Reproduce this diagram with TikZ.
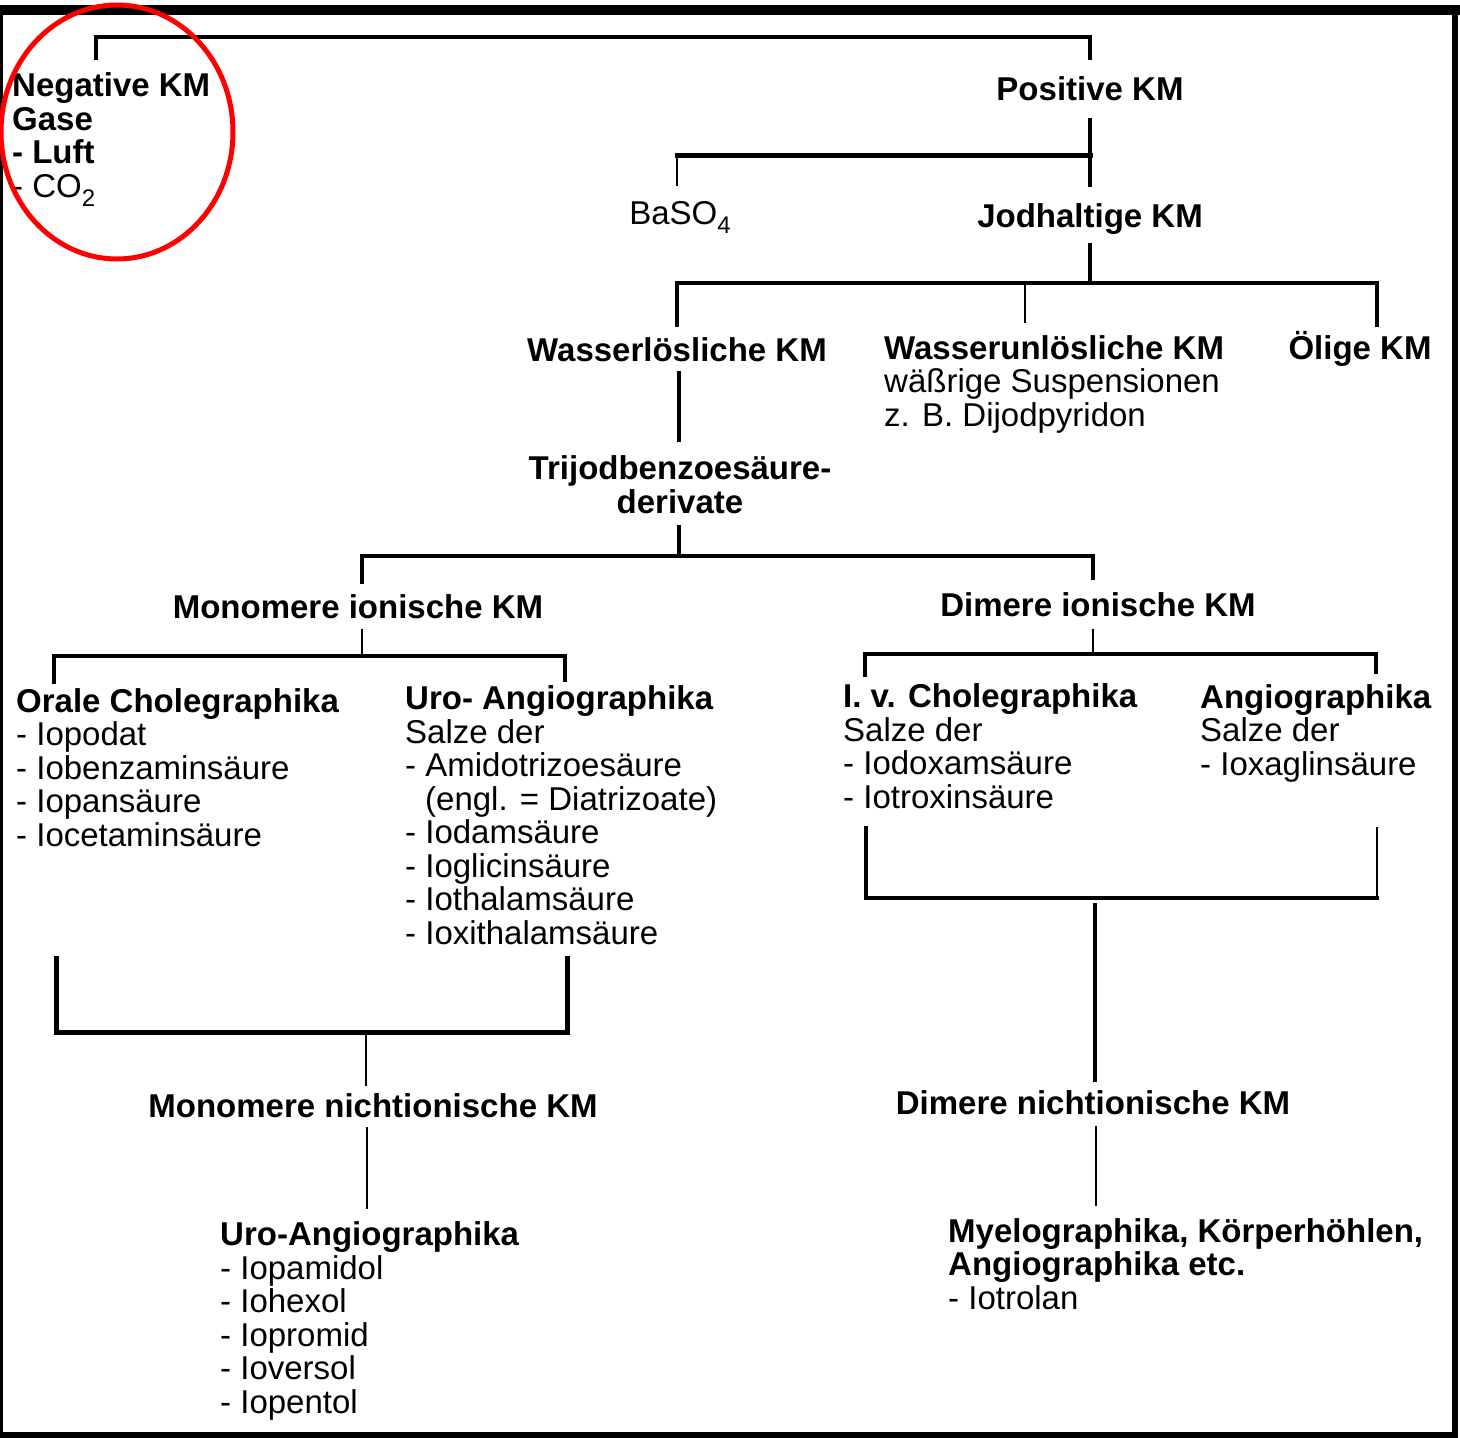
\documentclass[tikz,border=0pt]{standalone}
\usepackage{fontspec}
\setmainfont{Liberation Sans}
\newcommand{\lowsub}[1]{\raisebox{-0.28em}{\fontsize{24}{24}\selectfont #1}}
\newcommand{\diagfont}{\fontsize{33}{33.5}\selectfont\lineskiplimit-60pt\relax}
\begin{document}
\begin{tikzpicture}[x=1pt,y=-1pt,
  hd/.style={font={\diagfont\bfseries}, inner sep=0pt, align=left},
  tx/.style={font={\diagfont}, inner sep=0pt, align=left},
  ln/.style={line width=4pt, line cap=rect},
  lnthick/.style={line width=5pt, line cap=rect},
  lnthin/.style={line width=2.5pt, line cap=rect},
  frame/.style={fill=black, draw=none},
  ring/.style={draw=red, line width=5pt}]
\useasboundingbox (0,0) rectangle (1460,1438);
% frame
\fill[frame] (0,5) rectangle (1460,15);
\fill[frame] (0,5) rectangle (3,1438);
\fill[frame] (1452,5) rectangle (1458,1438);
\fill[frame] (0,1432) rectangle (1458,1438);

% texts (multi-line nodes are anchored at the baseline of their last line)
\node[hd, anchor=base west] (neg) at (12,197) {Negative KM\\Gase\\- Luft\\\mdseries - CO\lowsub{2}};
\node[hd, anchor=base] (pos) at (1090,100) {Positive KM};
\node[tx, anchor=base] (baso) at (680,224) {BaSO\lowsub{4}};
\node[hd, anchor=base] (jod) at (1090,227) {Jodhaltige KM};
\node[hd, anchor=base] (wl) at (677,361) {Wasserlösliche KM};
\node[tx, anchor=base west] (wu) at (884,426) {\textbf{Wasserunlösliche KM}\\wäßrige Suspensionen\\z. B. Dijodpyridon};
\node[hd, anchor=base] (oel) at (1360,359) {Ölige KM};
\node[hd, anchor=base, align=center] (tri) at (680,513) {Trijodbenzoesäure-\\derivate};
\node[hd, anchor=base] (mi) at (358,618) {Monomere ionische KM};
\node[hd, anchor=base] (di) at (1098,616) {Dimere ionische KM};
\node[tx, anchor=base west] (oc) at (16,846) {\textbf{Orale Cholegraphika}\\- Iopodat\\- Iobenzaminsäure\\- Iopansäure\\- Iocetaminsäure};
\node[tx, anchor=base west] (ua) at (405,944) {\textbf{Uro- Angiographika}\\Salze der\\- Amidotrizoesäure\\\hspace*{20pt}(engl. = Diatrizoate)\\- Iodamsäure\\- Ioglicinsäure\\- Iothalamsäure\\- Ioxithalamsäure};
\node[tx, anchor=base west] (ivc) at (843,808) {\textbf{I. v. Cholegraphika}\\Salze der\\- Iodoxamsäure\\- Iotroxinsäure};
\node[tx, anchor=base west] (ang) at (1200,775) {\textbf{Angiographika}\\Salze der\\- Ioxaglinsäure};
\node[hd, anchor=base] (mn) at (373,1117) {Monomere nichtionische KM};
\node[tx, anchor=base west] (uan) at (220,1413) {\textbf{Uro-Angiographika}\\- Iopamidol\\- Iohexol\\- Iopromid\\- Ioversol\\- Iopentol};
\node[hd, anchor=base] (dn) at (1093,1114) {Dimere nichtionische KM};
\node[tx, anchor=base west] (my) at (948,1309) {\textbf{Myelographika, Körperhöhlen,}\\\textbf{Angiographika etc.}\\- Iotrolan};

% junction coordinates
\coordinate (a1) at (96,58);   \coordinate (a2) at (96,37);
\coordinate (a3) at (1090,37); \coordinate (a4) at (1090,58);
\coordinate (b1) at (1090,120); \coordinate (b2) at (1090,185);
\coordinate (b3) at (1090,155); \coordinate (b4) at (677,155); \coordinate (b5) at (677,185);
\coordinate (c1) at (1090,245); \coordinate (c2) at (1090,283);
\coordinate (c3) at (677,325); \coordinate (c4) at (677,283);
\coordinate (c5) at (1377,283); \coordinate (c6) at (1377,325);
\coordinate (c7) at (1025,283); \coordinate (c8) at (1025,322);
\coordinate (d1) at (679,373); \coordinate (d2) at (679,440);
\coordinate (e1) at (679,527); \coordinate (e2) at (679,556);
\coordinate (e3) at (362,582); \coordinate (e4) at (362,556);
\coordinate (e5) at (1093,556); \coordinate (e6) at (1093,578);
\coordinate (f1) at (362,630); \coordinate (f2) at (362,656);
\coordinate (f3) at (54,682); \coordinate (f4) at (54,656);
\coordinate (f5) at (565,656); \coordinate (f6) at (565,680);
\coordinate (g1) at (1093,630); \coordinate (g2) at (1093,654);
\coordinate (g3) at (865,675); \coordinate (g4) at (865,654);
\coordinate (g5) at (1376,654); \coordinate (g6) at (1376,672);
\coordinate (h1) at (56,958); \coordinate (h2) at (56,1032);
\coordinate (h3) at (567,1032); \coordinate (h4) at (567,958);
\coordinate (h5) at (366,1032); \coordinate (h6) at (366,1085);
\coordinate (i1) at (367,1128); \coordinate (i2) at (367,1208);
\coordinate (j1) at (866,828); \coordinate (j2) at (866,898);
\coordinate (j3) at (1377,898); \coordinate (j4) at (1377,828);
\coordinate (j5) at (1095,905); \coordinate (j6) at (1095,1080);
\coordinate (k1) at (1096,1127); \coordinate (k2) at (1096,1205);

% connectors
\draw[ln] (a1) -- (a2) -- (a3) -- (a4);
\draw[ln] (b1) -- (b2);
\draw[lnthick] (b3) -- (b4);
\draw[lnthin] (b4) -- (b5);
\draw[ln] (c1) -- (c2);
\draw[ln] (c3) -- (c4) -- (c5) -- (c6);
\draw[lnthin] (c7) -- (c8);
\draw[ln] (d1) -- (d2);
\draw[ln] (e1) -- (e2);
\draw[ln] (e3) -- (e4) -- (e5) -- (e6);
\draw[lnthin] (f1) -- (f2);
\draw[ln] (f3) -- (f4) -- (f5) -- (f6);
\draw[lnthin] (g1) -- (g2);
\draw[ln] (g3) -- (g4) -- (g5) -- (g6);
\draw[lnthick] (h1) -- (h2) -- (h3) -- (h4);
\draw[lnthin] (h5) -- (h6);
\draw[lnthin] (i1) -- (i2);
\draw[ln] (j1) -- (j2) -- (j3);
\draw[lnthin] (j3) -- (j4);
\draw[ln] (j5) -- (j6);
\draw[lnthin] (k1) -- (k2);

% red ring
\draw[ring] (117,132) ellipse [x radius=116, y radius=127];
\end{tikzpicture}
\end{document}
